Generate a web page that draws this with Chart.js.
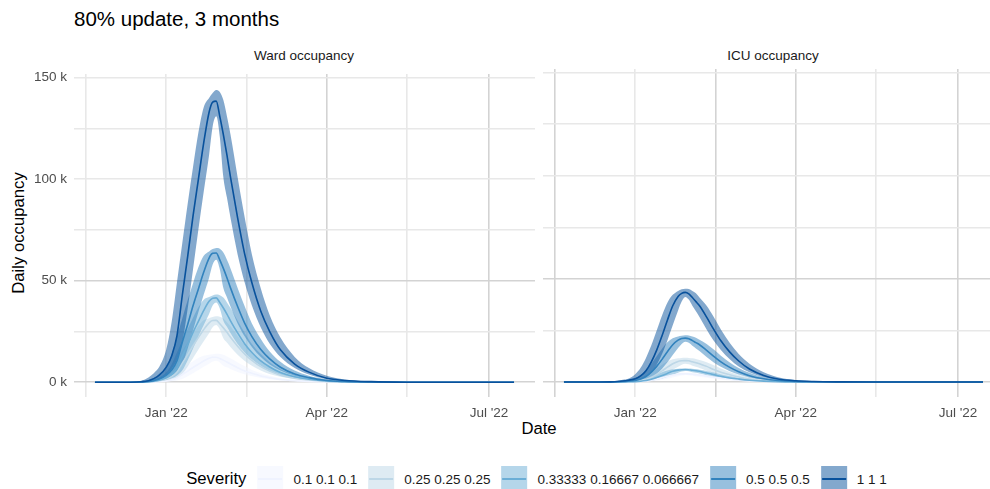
<!DOCTYPE html>
<html><head><meta charset="utf-8">
<script src="https://cdn.jsdelivr.net/npm/chart.js@4.4.1/dist/chart.umd.min.js"></script>
<style>
html,body{margin:0;padding:0;width:990px;height:489px;overflow:hidden;background:#fff;font-family:"Liberation Sans",Arial,Helvetica,sans-serif;}
.abs{position:absolute;white-space:nowrap;}
#title{left:74px;top:7px;font-size:20.5px;line-height:24px;color:#000;}
.strip{top:48px;font-size:13.5px;line-height:16px;color:#1a1a1a;transform:translateX(-50%);}
#ytitle{left:19px;top:233px;font-size:16.7px;color:#000;transform:translate(-50%,-50%) rotate(-90deg);}
#xtitle{left:539px;top:429px;font-size:16.7px;color:#000;transform:translate(-50%,-50%);}
#legend{left:542px;top:479px;transform:translate(-50%,-50%);display:flex;align-items:center;}
#legend .lt{font-size:16.7px;color:#000;margin-right:11px;}
#legend .key{width:26px;height:26px;position:relative;margin-right:10px;}
#legend .key span{position:absolute;left:1px;right:1px;top:12px;height:1.6px;}
#legend .lab{font-size:13.5px;color:#1a1a1a;margin-right:11px;}
canvas{position:absolute;}
</style></head>
<body>
<div id="title" class="abs">80% update, 3 months</div>
<div id="strip0" class="abs strip" style="left:304px">Ward occupancy</div>
<div id="strip1" class="abs strip" style="left:773px">ICU occupancy</div>
<div id="ytitle" class="abs">Daily occupancy</div>
<div id="xtitle" class="abs">Date</div>
<div id="legend" class="abs"></div>
<canvas id="c0" width="535" height="368" style="left:0px;top:59px;width:535px;height:368px"></canvas>
<canvas id="c1" width="461" height="368" style="left:543px;top:59px;width:461px;height:368px"></canvas>
<script>
// ---- data (occupancy in thousands) ----
const dates = ['2021-11-22','2021-12-02','2021-12-12','2021-12-18','2021-12-22','2021-12-25','2021-12-28',
 '2022-01-01','2022-01-04','2022-01-07','2022-01-10','2022-01-13','2022-01-16','2022-01-19','2022-01-22',
 '2022-01-25','2022-01-27','2022-01-29','2022-01-31','2022-02-02','2022-02-04','2022-02-06','2022-02-10',
 '2022-02-14','2022-02-18','2022-02-23','2022-02-28','2022-03-06','2022-03-14','2022-03-22','2022-04-01',
 '2022-04-11','2022-04-26','2022-05-16','2022-06-15','2022-07-15'];

const severityLabels = ['0.1 0.1 0.1','0.25 0.25 0.25','0.33333 0.16667 0.066667','0.5 0.5 0.5','1 1 1'];
const severityColors = ['#EFF3FF','#BDD7E7','#6BAED6','#3182BD','#08519C'];
const panelTitles = ['Ward occupancy','ICU occupancy'];
const yTickValues = [0,50,100,150];
const yMinorValues = [25,75,125];
const xTickDates = ['2022-01-01','2022-04-01','2022-07-01'];
const xTickLabels = ["Jan '22","Apr '22","Jul '22"];
const xMinorDates = ['2021-11-17','2022-02-15','2022-05-16'];

// Ward occupancy
const ward1Mid = [0,0,0,0.03,0.07,0.16,0.31,0.67,1.16,2.05,3.83,5.52,7.3,8.9,10.5,11.8,12.3,12.3,11.7,10.9,10,9,7.2,5.6,4.4,3.1,2.2,1.4,0.8,0.45,0.18,0.08,0.03,0,0,0];
const ward1Lo  = [0,0,0,0.01,0.02,0.05,0.12,0.28,0.53,0.91,1.6,2.94,4.51,6.1,7.61,9.07,10.2,10.6,9.8,8.18,7.37,6.56,5.1,3.97,3.06,2.19,1.54,1.01,0.57,0.31,0.13,0.06,0.02,0,0,0];
const ward1Hi  = [0,0,0.02,0.08,0.23,0.44,0.73,1.58,2.88,4.78,6.66,8.54,10.3,11.9,13.1,13.6,13.8,14,13.9,13.5,12.7,11.8,9.8,7.86,6.11,4.48,3.2,2.13,1.21,0.68,0.31,0.13,0.04,0.01,0,0];

const ward2Mid = [0,0,0.01,0.07,0.18,0.4,0.77,1.65,2.86,5.06,9.46,13.6,18,22,26,29.3,30.4,30.5,28.8,26.8,24.6,22.2,17.8,13.9,10.8,7.7,5.5,3.5,2,1.1,0.44,0.2,0.07,0.01,0,0];
const ward2Lo  = [0,0,0,0.03,0.06,0.14,0.32,0.75,1.4,2.41,4.24,7.8,12,16.2,20.2,24.1,27.1,28.2,26,21.7,19.6,17.4,13.6,10.5,8.13,5.81,4.09,2.69,1.51,0.82,0.34,0.16,0.05,0.01,0,0];
const ward2Hi  = [0,0,0.05,0.18,0.54,1.02,1.7,3.68,6.71,11.1,15.5,19.9,24,27.8,30.6,31.6,32.2,32.5,32.3,31.4,29.6,27.6,22.8,18.3,14.2,10.4,7.46,4.97,2.83,1.58,0.72,0.3,0.1,0.02,0,0];

const ward3Mid = [0,0,0.02,0.09,0.24,0.54,1.05,2.25,3.9,6.9,12.9,18.6,24.6,30,35.4,39.9,41.4,41.6,39.3,36.6,33.6,30.3,24.3,18.9,14.7,10.5,7.5,4.8,2.7,1.5,0.6,0.27,0.09,0.02,0,0];
const ward3Lo  = [0,0,0,0.04,0.09,0.2,0.44,1.05,1.95,3.36,5.91,10.9,16.7,22.6,28.2,33.6,37.8,39.3,36.3,30.3,27.3,24.3,18.9,14.7,11.3,8.1,5.7,3.75,2.1,1.14,0.47,0.22,0.08,0.01,0,0];
const ward3Hi  = [0,0.01,0.07,0.24,0.72,1.35,2.25,4.89,8.91,14.8,20.6,26.4,31.8,36.9,40.7,42,42.8,43.2,42.9,41.7,39.3,36.6,30.3,24.3,18.9,13.9,9.9,6.6,3.75,2.1,0.96,0.4,0.14,0.03,0,0];

const ward4Mid = [0,0,0.02,0.14,0.37,0.83,1.6,3.5,6,10.6,19.8,28.5,37.7,46,54.3,61.2,63.5,63.7,60.3,56.1,51.5,46.5,37.3,29,22.5,16.1,11.5,7.4,4.1,2.3,0.9,0.41,0.14,0.02,0,0];
const ward4Lo  = [0,0,0,0.06,0.14,0.31,0.68,1.61,2.99,5.15,9.06,16.7,25.6,34.6,43.2,51.5,58,60.3,55.7,46.5,41.9,37.3,29,22.5,17.4,12.4,8.74,5.75,3.22,1.75,0.72,0.34,0.12,0.02,0,0];
const ward4Hi  = [0,0.01,0.1,0.37,1.1,2.07,3.45,7.5,13.7,22.7,31.6,40.5,48.8,56.6,62.3,64.4,65.6,66.2,65.8,63.9,60.3,56.1,46.5,37.3,29,21.3,15.2,10.1,5.75,3.22,1.47,0.62,0.21,0.05,0,0];

const ward5Mid = [0,0,0.05,0.3,0.8,1.8,3.5,7.5,13,23,43,62,82,100,118,133,138,138.5,131,122,112,101,81,63,49,35,25,16,9,5,2,0.9,0.3,0.05,0,0];
const ward5Lo  = [0,0,0.01,0.13,0.3,0.67,1.47,3.5,6.5,11.2,19.7,36.3,55.7,75.3,94,112,126,131,121,101,91,81,63,49,37.8,27,19,12.5,7,3.8,1.56,0.74,0.25,0.04,0,0];
const ward5Hi  = [0,0.02,0.22,0.8,2.4,4.5,7.5,16.3,29.7,49.3,68.7,88,106,123,135.5,140,142.5,144,143,139,131,122,101,81,63,46.2,33,22,12.5,7,3.2,1.34,0.46,0.1,0.01,0];

// ICU occupancy
const icu1Mid = [0,0,0,0.01,0.02,0.05,0.08,0.15,0.28,0.51,0.9,1.43,2.07,2.76,3.4,3.82,3.96,4,3.94,3.77,3.59,3.4,2.9,2.35,1.84,1.33,0.94,0.58,0.29,0.14,0.06,0.02,0.01,0,0,0];
const icu1Lo  = [0,0,0,0,0.01,0.02,0.03,0.07,0.11,0.21,0.38,0.69,1.12,1.66,2.26,2.85,3.2,3.39,3.28,3.03,2.81,2.58,2.09,1.64,1.28,0.91,0.62,0.39,0.19,0.09,0.04,0.02,0,0,0,0];
const icu1Hi  = [0,0,0.01,0.03,0.06,0.11,0.16,0.38,0.69,1.17,1.78,2.5,3.23,3.85,4.23,4.42,4.5,4.53,4.51,4.42,4.3,4.1,3.7,3.15,2.55,1.89,1.36,0.89,0.48,0.24,0.1,0.04,0.01,0,0,0];

const icu2Mid = [0,0,0,0.02,0.06,0.12,0.22,0.38,0.72,1.32,2.35,3.72,5.4,7.2,8.9,10,10.3,10.4,10.3,9.8,9.4,8.9,7.6,6.1,4.8,3.5,2.45,1.5,0.77,0.36,0.14,0.06,0.02,0,0,0];
const icu2Lo  = [0,0,0,0.01,0.02,0.04,0.09,0.19,0.3,0.54,1,1.81,2.92,4.34,5.91,7.46,8.39,8.88,8.6,7.96,7.37,6.77,5.48,4.3,3.35,2.39,1.63,1.02,0.51,0.25,0.1,0.04,0.01,0,0,0];
const icu2Hi  = [0,0,0.02,0.07,0.16,0.28,0.42,1,1.8,3.04,4.63,6.5,8.4,10,11,11.5,11.7,11.8,11.7,11.5,11.2,10.7,9.62,8.19,6.63,4.91,3.54,2.31,1.24,0.61,0.25,0.1,0.03,0.01,0,0];

const icu3Mid = [0,0,0,0.01,0.04,0.07,0.13,0.22,0.42,0.77,1.37,2.17,3.15,4.2,5.2,5.8,6,6.1,6,5.7,5.5,5.2,4.4,3.6,2.8,2,1.43,0.88,0.45,0.21,0.08,0.04,0.01,0,0,0];
const icu3Lo  = [0,0,0,0.01,0.01,0.03,0.05,0.12,0.18,0.33,0.61,1.09,1.77,2.63,3.58,4.51,5.07,5.37,5.2,4.81,4.46,4.1,3.32,2.6,2.03,1.44,0.99,0.62,0.31,0.15,0.06,0.03,0.01,0,0,0];
const icu3Hi  = [0,0,0.01,0.04,0.09,0.16,0.23,0.56,1.01,1.71,2.6,3.65,4.72,5.62,6.18,6.45,6.57,6.61,6.58,6.45,6.28,5.99,5.4,4.6,3.72,2.76,1.99,1.3,0.69,0.34,0.14,0.06,0.02,0,0,0];

const icu4Mid = [0,0,0.01,0.05,0.12,0.25,0.44,0.78,1.47,2.7,4.8,7.6,11,14.7,18.1,20.3,21.1,21.3,21,20.1,19.1,18.1,15.4,12.5,9.8,7.1,5,3.1,1.57,0.74,0.29,0.12,0.03,0,0,0];
const icu4Lo  = [0,0,0,0.02,0.05,0.1,0.2,0.43,0.67,1.19,2.22,3.99,6.46,9.6,13.1,16.5,18.5,19.6,19,17.6,16.3,15,12.1,9.5,7.41,5.27,3.61,2.26,1.12,0.54,0.22,0.1,0.02,0,0,0];
const icu4Hi  = [0,0.01,0.04,0.13,0.32,0.54,0.8,1.92,3.47,5.85,8.9,12.5,16.2,19.3,21.2,22.1,22.5,22.7,22.6,22.1,21.5,20.5,18.5,15.8,12.8,9.45,6.8,4.45,2.38,1.18,0.48,0.2,0.06,0.01,0,0];

const icu5Mid = [0,0,0.02,0.1,0.25,0.5,0.9,1.6,3,5.5,9.8,15.5,22.5,30,37,41.5,43,43.5,42.8,41,39,37,31.5,25.5,20,14.5,10.2,6.3,3.2,1.5,0.6,0.25,0.07,0.01,0,0];
const icu5Lo  = [0,0,0.01,0.04,0.1,0.2,0.42,0.9,1.4,2.5,4.67,8.4,13.6,20.2,27.5,34.7,39,41.3,40,37,34.3,31.5,25.5,20,15.6,11.1,7.6,4.75,2.35,1.14,0.46,0.2,0.05,0.01,0,0];
const icu5Hi  = [0,0.01,0.07,0.25,0.63,1.08,1.6,3.83,6.93,11.7,17.8,25,32.3,38.5,42.3,44.2,45,45.3,45.1,44.2,43,41,37,31.5,25.5,18.9,13.6,8.9,4.75,2.35,0.96,0.39,0.11,0.02,0,0];

// ---- build ----
const FONT = '"Liberation Sans", Arial, Helvetica, sans-serif';
const DAY0 = Date.UTC(2022,0,1);
const toDay = s => (Date.parse(s + 'T00:00:00Z') - DAY0) / 86400000;
const xDays = dates.map(toDay);
const majorDays = xTickDates.map(toDay);
const minorDays = xMinorDates.map(toDay);
const pts = arr => arr.map((v,i) => ({x: xDays[i], y: v}));
function rgba(hex, a){
  const n = parseInt(hex.slice(1),16);
  return `rgba(${(n>>16)&255},${(n>>8)&255},${n&255},${a})`;
}
const wardSets = [[ward1Lo,ward1Mid,ward1Hi],[ward2Lo,ward2Mid,ward2Hi],[ward3Lo,ward3Mid,ward3Hi],[ward4Lo,ward4Mid,ward4Hi],[ward5Lo,ward5Mid,ward5Hi]];
const icuSets  = [[icu1Lo,icu1Mid,icu1Hi],[icu2Lo,icu2Mid,icu2Hi],[icu3Lo,icu3Mid,icu3Hi],[icu4Lo,icu4Mid,icu4Hi],[icu5Lo,icu5Mid,icu5Hi]];

function buildDatasets(sets){
  const ds = [];
  sets.forEach((s,i) => {
    const hiIdx = ds.length;
    ds.push({data: pts(s[2]), borderColor:'rgba(0,0,0,0)', borderWidth:0, pointRadius:0,
      fill: hiIdx + 1, backgroundColor: rgba(severityColors[i], 0.5), order: 100 - 2*i,
      cubicInterpolationMode:'monotone'});
    ds.push({data: pts(s[0]), borderColor:'rgba(0,0,0,0)', borderWidth:0, pointRadius:0,
      fill: false, order: 99 - 2*i, cubicInterpolationMode:'monotone'});
  });
  sets.forEach((s,i) => {
    ds.push({data: pts(s[1]), borderColor: severityColors[i], borderWidth:1.6, pointRadius:0,
      fill:false, order: 50 - i, cubicInterpolationMode:'monotone'});
  });
  return ds;
}

function makePanel(id, sets, showY, darkX){
  const darkY = [0,50];
  return new Chart(document.getElementById(id), {
    type:'line',
    data:{datasets: buildDatasets(sets)},
    options:{
      responsive:false, animation:false, devicePixelRatio:1,
      layout:{padding:{top:10,left:0,right:0,bottom:0}},
      plugins:{legend:{display:false}, tooltip:{enabled:false}, title:{display:false}},
      events:[],
      scales:{
        x:{type:'linear', min:-51.75, max:206.75,
          afterBuildTicks: sc => { sc.ticks = [...minorDays, ...majorDays].sort((a,b)=>a-b).map(v=>({value:v})); },
          afterFit: sc => { sc.height = 30; },
          border:{display:false},
          grid:{drawTicks:false,
            color: c => darkX.includes(c.tick && c.tick.value) ? '#d3d3d3' : '#e8e8e8',
            lineWidth: 1.6},
          ticks:{autoSkip:false, maxRotation:0, padding:8, color:'#4d4d4d', font:{family:FONT, size:13.5},
            callback: v => { const k = majorDays.indexOf(v); return k >= 0 ? xTickLabels[k] : ''; }}
        },
        y:{min:-7.25, max:151.8,
          afterBuildTicks: sc => { sc.ticks = [...yTickValues, ...yMinorValues].sort((a,b)=>a-b).map(v=>({value:v})); },
          afterFit: sc => { sc.width = showY ? 74 : 0; },
          border:{display:false},
          grid:{drawTicks:false,
            color: c => darkY.includes(c.tick && c.tick.value) ? '#d3d3d3' : '#e8e8e8',
            lineWidth: 1.6},
          ticks:{display:showY, autoSkip:false, padding:7, color:'#4d4d4d', font:{family:FONT, size:13.5},
            callback: v => yTickValues.includes(v) ? v + ' k' : ''}
        }
      }
    }
  });
}

makePanel('c0', wardSets, true, [90,181]);
makePanel('c1', icuSets, false, [-45,45,90,181]);

// legend
const leg = document.getElementById('legend');
leg.innerHTML = '<span class="lt">Severity</span>' + severityLabels.map((l,i) =>
  `<div class="key" style="background:${rgba(severityColors[i],0.5)}"><span style="background:${severityColors[i]}"></span></div><span class="lab">${l}</span>`).join('');
</script>
</body></html>
